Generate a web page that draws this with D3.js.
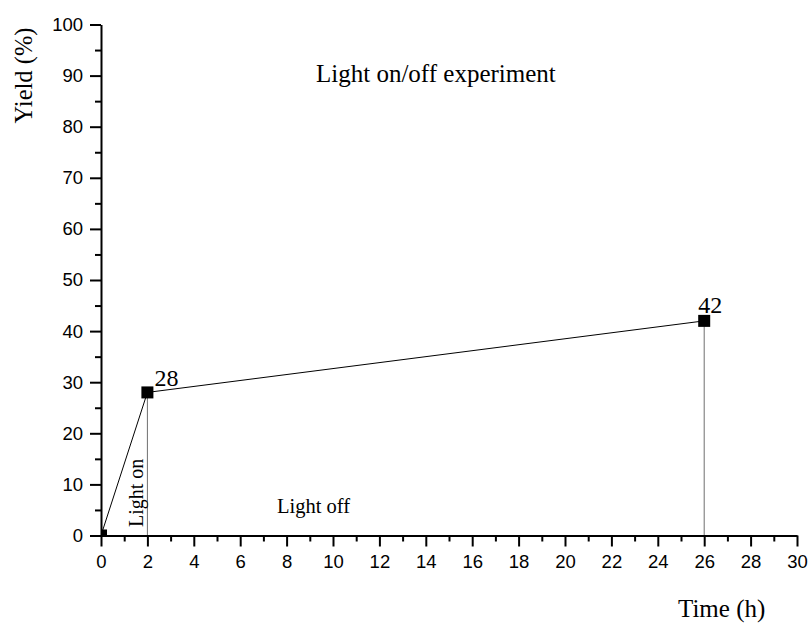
<!DOCTYPE html>
<html>
<head>
<meta charset="utf-8">
<script src="https://cdn.jsdelivr.net/npm/d3@7"></script>
<style>
  html, body { margin: 0; padding: 0; background: #fff; }
  svg { display: block; }
</style>
</head>
<body>
<svg id="chart" width="811" height="626"></svg>
<script>
// Light on/off experiment: yield over time
const times = [0, 2, 26];
const yields = [0, 28, 42];
const pointLabels = ["", "28", "42"];

const xMajorTicks = [0, 2, 4, 6, 8, 10, 12, 14, 16, 18, 20, 22, 24, 26, 28, 30];
const xMinorTicks = [1, 3, 5, 7, 9, 11, 13, 15, 17, 19, 21, 23, 25, 27, 29];
const yMajorTicks = [0, 10, 20, 30, 40, 50, 60, 70, 80, 90, 100];
const yMinorTicks = [5, 15, 25, 35, 45, 55, 65, 75, 85, 95];

const titleText = "Light on/off experiment";
const xTitle = "Time (h)";
const yTitle = "Yield (%)";
const lightOnText = "Light on";
const lightOffText = "Light off";

const plotLeft = 101, plotRight = 797, plotTop = 24.5, plotBottom = 535.5;
const SANS = '"Liberation Sans", Arial, sans-serif';
const SERIF = '"Liberation Serif", "Times New Roman", serif';

const svg = d3.select("#chart");

const x = d3.scaleLinear().domain([0, 30]).range([plotLeft, plotRight]);
const y = d3.scaleLinear().domain([0, 100]).range([plotBottom, plotTop]);

const data = times.map((t, i) => ({ t, v: yields[i], label: pointLabels[i], i }));

// clip marks to the plotting region
svg.append("defs").append("clipPath").attr("id", "plotClip")
  .append("rect").attr("x", plotLeft).attr("y", plotTop - 10)
  .attr("width", plotRight - plotLeft + 10).attr("height", plotBottom - plotTop + 10);

const plot = svg.append("g").attr("clip-path", "url(#plotClip)");

// drop lines from points to the time axis
plot.selectAll("line.drop")
  .data(data.filter(d => d.v > 0))
  .join("line")
  .attr("class", "drop")
  .attr("x1", d => x(d.t)).attr("x2", d => x(d.t))
  .attr("y1", d => y(d.v)).attr("y2", y(0))
  .attr("stroke", "#6e6e6e").attr("stroke-width", 1);

// connecting line
plot.append("path")
  .datum(data)
  .attr("fill", "none")
  .attr("stroke", "#000")
  .attr("stroke-width", 1)
  .attr("d", d3.line().x(d => x(d.t)).y(d => y(d.v)));

// square markers
const ms = 12;
plot.selectAll("rect.pt")
  .data(data)
  .join("rect")
  .attr("class", "pt")
  .attr("x", d => x(d.t) - ms / 2)
  .attr("y", d => y(d.v) - ms / 2)
  .attr("width", ms).attr("height", ms)
  .attr("fill", "#000");

// axes
const xAxisG = svg.append("g").attr("transform", `translate(0,${y(0)})`);
xAxisG.call(d3.axisBottom(x).tickValues(xMajorTicks).tickSize(11).tickSizeOuter(0).tickPadding(8).tickFormat(d3.format("d")));
const xMinorG = svg.append("g").attr("transform", `translate(0,${y(0)})`);
xMinorG.call(d3.axisBottom(x).tickValues(xMinorTicks).tickSize(6).tickSizeOuter(0).tickFormat(""));
xMinorG.select(".domain").remove();

const yAxisG = svg.append("g").attr("transform", `translate(${x(0)},0)`);
yAxisG.call(d3.axisLeft(y).tickValues(yMajorTicks).tickSize(11).tickSizeOuter(0).tickPadding(7).tickFormat(d3.format("d")));
const yMinorG = svg.append("g").attr("transform", `translate(${x(0)},0)`);
yMinorG.call(d3.axisLeft(y).tickValues(yMinorTicks).tickSize(6).tickSizeOuter(0).tickFormat(""));
yMinorG.select(".domain").remove();

svg.selectAll(".domain").attr("stroke", "#000").attr("stroke-width", 2);
svg.selectAll(".tick line").attr("stroke", "#000").attr("stroke-width", 2);
svg.selectAll(".tick text")
  .style("font-family", SANS).style("font-size", "18.5px").style("fill", "#000");

// point value labels
const labelOffset = [[0, 0], [7, -6], [-6, -8]];
svg.selectAll("text.val")
  .data(data.filter(d => d.label))
  .join("text")
  .attr("class", "val")
  .style("font-family", SERIF).style("font-size", "24px")
  .attr("x", d => x(d.t) + labelOffset[d.i][0])
  .attr("y", d => y(d.v) + labelOffset[d.i][1])
  .text(d => d.label);

// titles and annotations
function serifText(size) {
  return svg.append("text").style("font-family", SERIF).style("font-size", size + "px").attr("fill", "#000");
}

serifText(25).attr("x", 316).attr("y", 82).text(titleText);

serifText(24.5).attr("text-anchor", "middle")
  .attr("transform", "translate(31.5,75.5) rotate(-90)")
  .text(yTitle);

serifText(25).attr("x", 678).attr("y", 617).text(xTitle);

serifText(20.5).attr("x", 277).attr("y", 513).text(lightOffText);

serifText(20).attr("transform", "translate(143,527) rotate(-90)")
  .text(lightOnText);
</script>
</body>
</html>
